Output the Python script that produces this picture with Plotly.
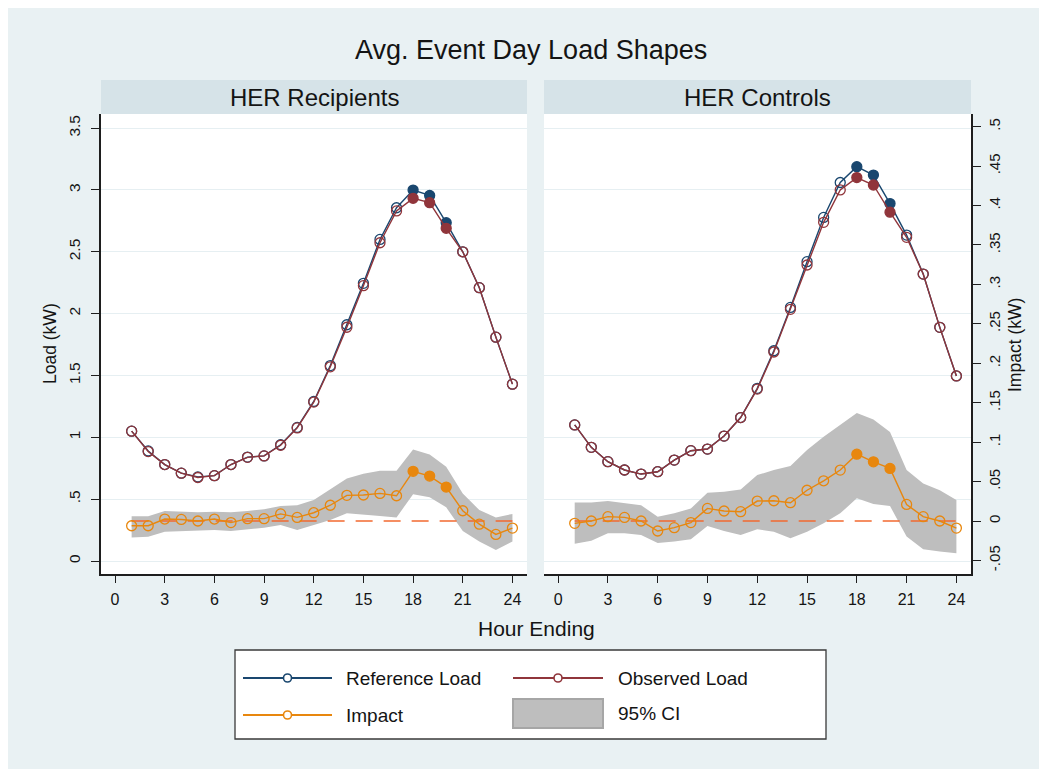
import plotly.graph_objects as go

# ---------------- data ----------------
hours = list(range(1, 25))
event_hours = [18, 19, 20]

ref_rec = [1.05, 0.89, 0.78, 0.71, 0.68, 0.69, 0.78, 0.84, 0.85, 0.94, 1.08, 1.29,
           1.58, 1.91, 2.245, 2.60, 2.856, 2.999, 2.956, 2.735, 2.50, 2.21, 1.81, 1.43]
obs_rec = [1.05, 0.885, 0.78, 0.71, 0.675, 0.69, 0.78, 0.838, 0.85, 0.936, 1.076, 1.285,
           1.57, 1.89, 2.226, 2.573, 2.83, 2.932, 2.897, 2.69, 2.50, 2.21, 1.81, 1.43]
imp_rec = [-0.006, -0.006, 0.0025, 0.002, 0.0, 0.0025, -0.002, 0.003, 0.003, 0.009, 0.0046, 0.0105,
           0.020, 0.0325, 0.033, 0.035, 0.032, 0.063, 0.057, 0.043, 0.013, -0.004, -0.017, -0.009]
ci_lo_rec = [-0.021, -0.020, -0.0135, -0.0127, -0.0127, -0.0114, -0.0127, -0.0105, -0.0084, -0.005, -0.0114, -0.005,
             0.0013, 0.0097, 0.0076, 0.0063, 0.0046, 0.0338, 0.030, 0.0173, -0.0127, -0.026, -0.0367, -0.026]
ci_hi_rec = [0.006, 0.006, 0.0127, 0.0114, 0.011, 0.0118, 0.011, 0.0127, 0.015, 0.019, 0.020, 0.0266,
             0.0405, 0.054, 0.060, 0.0637, 0.0637, 0.0907, 0.0844, 0.0688, 0.035, 0.0139, 0.0046, 0.009]

ref_ctl = [1.10, 0.919, 0.803, 0.736, 0.703, 0.722, 0.816, 0.892, 0.905, 1.01, 1.16, 1.396,
           1.70, 2.05, 2.42, 2.778, 3.06, 3.188, 3.12, 2.89, 2.635, 2.32, 1.889, 1.496]
obs_ctl = [1.10, 0.919, 0.803, 0.736, 0.703, 0.722, 0.816, 0.892, 0.905, 1.01, 1.16, 1.39,
           1.69, 2.035, 2.393, 2.738, 3.0, 3.10, 3.04, 2.82, 2.617, 2.32, 1.889, 1.496]
imp_ctl = [-0.003, 0.0, 0.0055, 0.0046, 0.0, -0.0127, -0.0084, -0.002, 0.016, 0.0127, 0.0118, 0.0253,
           0.0257, 0.0232, 0.039, 0.051, 0.0646, 0.0848, 0.075, 0.0667, 0.021, 0.0055, 0.0, -0.009]
ci_lo_ctl = [-0.029, -0.025, -0.0156, -0.0156, -0.0177, -0.028, -0.026, -0.023, -0.0063, -0.0127, -0.0177, -0.0105,
             -0.0135, -0.022, -0.0135, -0.003, 0.0097, 0.0287, 0.0215, 0.019, -0.0198, -0.0358, -0.0388, -0.041]
ci_hi_ctl = [0.0236, 0.0236, 0.0253, 0.0224, 0.020, 0.0055, 0.0097, 0.016, 0.0359, 0.037, 0.040, 0.0582,
             0.0646, 0.0696, 0.0899, 0.1067, 0.1215, 0.137, 0.1287, 0.113, 0.0646, 0.0477, 0.039, 0.0266]

zero_line = [0.0] * len(hours)

x_ticks = [0, 3, 6, 9, 12, 15, 18, 21, 24]
load_ticks = [0, 0.5, 1, 1.5, 2, 2.5, 3, 3.5]
load_labels = ["0", ".5", "1", "1.5", "2", "2.5", "3", "3.5"]
imp_ticks = [-0.05, 0, 0.05, 0.1, 0.15, 0.2, 0.25, 0.3, 0.35, 0.4, 0.45, 0.5]
imp_labels = ["-.05", "0", ".05", ".1", ".15", ".2", ".25", ".3", ".35", ".4", ".45", ".5"]

panel_titles = ["HER Recipients", "HER Controls"]
legend_names = ["Reference Load", "Observed Load", "Impact", "95% CI"]

# ---------------- style ----------------
W, H = 1039, 761
OFF = 8
BG = "#E9F1F3"
STRIP = "#D6E3E8"
NAVY = "#1A476F"
MAROON = "#90353B"
ORANGE = "#E8870E"
ZERO = "#F26A30"
CI = "#BEBEBE"
TXT = "#141414"
AX = "#1E1E1E"
FONT = "Liberation Sans, Arial, sans-serif"


def px2x(px):
    return (px - OFF) / W


def px2y(py):
    return 1 - (py - OFF) / H


symbols = ["circle" if h in event_hours else "circle-open" for h in hours]

fig = go.Figure()

panels = [
    ("x", "y", "y2", ref_rec, obs_rec, imp_rec, ci_lo_rec, ci_hi_rec),
    ("x2", "y3", "y4", ref_ctl, obs_ctl, imp_ctl, ci_lo_ctl, ci_hi_ctl),
]

for xa, ya_load, ya_imp, ref, obs, imp, lo, hi in panels:
    fig.add_trace(go.Scatter(x=hours, y=lo, xaxis=xa, yaxis=ya_imp, mode="lines",
                             line=dict(width=0, color=CI), showlegend=False, hoverinfo="skip"))
    fig.add_trace(go.Scatter(x=hours, y=hi, xaxis=xa, yaxis=ya_imp, mode="lines",
                             line=dict(width=0, color=CI), fill="tonexty", fillcolor=CI,
                             showlegend=False, name=legend_names[3]))
    fig.add_trace(go.Scatter(x=hours, y=zero_line, xaxis=xa, yaxis=ya_imp, mode="lines",
                             line=dict(width=1.6, color=ZERO, dash="17px,11px"), showlegend=False))
    fig.add_trace(go.Scatter(x=hours, y=imp, xaxis=xa, yaxis=ya_imp, mode="lines+markers",
                             line=dict(width=1.4, color=ORANGE),
                             marker=dict(symbol=symbols, size=10, color=ORANGE,
                                         line=dict(width=1.3, color=ORANGE)),
                             showlegend=False, name=legend_names[2]))
    fig.add_trace(go.Scatter(x=hours, y=ref, xaxis=xa, yaxis=ya_load, mode="lines+markers",
                             line=dict(width=1.4, color=NAVY),
                             marker=dict(symbol=symbols, size=10, color=NAVY,
                                         line=dict(width=1.3, color=NAVY)),
                             showlegend=False, name=legend_names[0]))
    fig.add_trace(go.Scatter(x=hours, y=obs, xaxis=xa, yaxis=ya_load, mode="lines+markers",
                             line=dict(width=1.4, color=MAROON),
                             marker=dict(symbol=symbols, size=10, color=MAROON,
                                         line=dict(width=1.3, color=MAROON)),
                             showlegend=False, name=legend_names[1]))

x_range = [-0.85, 24.88]
load_range = [-0.105, 3.614]
imp_range = [-0.0672, 0.5161]
dom_x1 = [px2x(101), px2x(527)]
dom_x2 = [px2x(544), px2x(971)]
dom_y = [px2y(574), px2y(114)]

xcommon = dict(range=x_range, tickvals=x_ticks, ticks="outside", ticklen=7, tickwidth=1.3,
               tickcolor=AX, showline=True, linecolor=AX, linewidth=1.5, showgrid=False,
               zeroline=False, tickfont=dict(size=16, color=TXT, family=FONT),
               ticklabelstandoff=3)

fig.update_layout(
    width=W, height=H,
    margin=dict(l=0, r=0, t=0, b=0),
    paper_bgcolor=BG, plot_bgcolor="white",
    showlegend=False,
    font=dict(family=FONT, color=TXT),
    xaxis=dict(domain=dom_x1, anchor="y", **xcommon),
    xaxis2=dict(domain=dom_x2, anchor="y3", **xcommon),
    yaxis=dict(domain=dom_y, anchor="x", range=load_range, tickvals=load_ticks, ticktext=load_labels,
               tickangle=-90, ticks="outside", ticklen=8, tickwidth=1.3, tickcolor=AX,
               showline=True, linecolor=AX, linewidth=1.5, showgrid=True, gridcolor="#E6EFF2",
               gridwidth=1.2, zeroline=False, tickfont=dict(size=15.5, color=TXT, family=FONT),
               ticklabelstandoff=5),
    yaxis2=dict(overlaying="y", anchor="x", side="right", range=imp_range, visible=False),
    yaxis3=dict(domain=dom_y, anchor="x2", range=load_range, tickvals=load_ticks,
                showticklabels=False, ticks="", showline=False, showgrid=True,
                gridcolor="#E6EFF2", gridwidth=1.2, zeroline=False),
    yaxis4=dict(overlaying="y3", anchor="x2", side="right", range=imp_range, tickvals=imp_ticks,
                ticktext=imp_labels, tickangle=-90, ticks="outside", ticklen=8, tickwidth=1.3,
                tickcolor=AX, showline=True, linecolor=AX, linewidth=1.5, showgrid=False,
                zeroline=False, tickfont=dict(size=15, color=TXT, family=FONT),
                ticklabelstandoff=1),
)

shapes = []
annotations = []

# panel header strips
for (x0, x1), title in zip([(101, 527), (544, 971)], panel_titles):
    shapes.append(dict(type="rect", xref="paper", yref="paper", x0=px2x(x0), x1=px2x(x1),
                       y0=px2y(114), y1=px2y(80), fillcolor=STRIP, line=dict(width=0), layer="below"))
    annotations.append(dict(text=title, xref="paper", yref="paper", x=px2x((x0 + x1) / 2),
                            y=px2y(97), showarrow=False, xanchor="center", yanchor="middle",
                            font=dict(size=24, color=TXT, family=FONT)))

# titles
annotations.append(dict(text="Avg. Event Day Load Shapes", xref="paper", yref="paper",
                        x=px2x(531), y=px2y(50), showarrow=False, xanchor="center", yanchor="middle",
                        font=dict(size=27, color=TXT, family=FONT)))
annotations.append(dict(text="Hour Ending", xref="paper", yref="paper",
                        x=px2x(536), y=px2y(628), showarrow=False, xanchor="center", yanchor="middle",
                        font=dict(size=21, color=TXT, family=FONT)))
annotations.append(dict(text="Load (kW)", xref="paper", yref="paper", textangle=-90,
                        x=px2x(50), y=px2y(344), showarrow=False, xanchor="center", yanchor="middle",
                        font=dict(size=17.5, color=TXT, family=FONT)))
annotations.append(dict(text="Impact (kW)", xref="paper", yref="paper", textangle=-90,
                        x=px2x(1015), y=px2y(345), showarrow=False, xanchor="center", yanchor="middle",
                        font=dict(size=17.5, color=TXT, family=FONT)))

# legend box (drawn manually to match layout)
shapes.append(dict(type="rect", xref="paper", yref="paper", x0=px2x(235), x1=px2x(826),
                   y0=px2y(739), y1=px2y(650), fillcolor="white", line=dict(color="#3A3A3A", width=1.3)))

leg_items = [
    (legend_names[0], NAVY, 243, 332, 344, 678, "line"),
    (legend_names[1], MAROON, 513, 603, 616, 678, "line"),
    (legend_names[2], ORANGE, 243, 332, 344, 715, "line"),
    (legend_names[3], CI, 513, 603, 616, 713, "area"),
]
for name, col, lx0, lx1, tx, ly, kind in leg_items:
    if kind == "line":
        shapes.append(dict(type="line", xref="paper", yref="paper", x0=px2x(lx0), x1=px2x(lx1),
                           y0=px2y(ly), y1=px2y(ly), line=dict(color=col, width=2.2)))
        cx = (lx0 + lx1) / 2
        r = 4
        shapes.append(dict(type="circle", xref="paper", yref="paper", x0=px2x(cx - r), x1=px2x(cx + r),
                           y0=px2y(ly + r), y1=px2y(ly - r), fillcolor="white",
                           line=dict(color=col, width=1.6)))
    else:
        shapes.append(dict(type="rect", xref="paper", yref="paper", x0=px2x(lx0), x1=px2x(lx1),
                           y0=px2y(728), y1=px2y(699), fillcolor=CI,
                           line=dict(color="#A6A6A6", width=2)))
    annotations.append(dict(text=name, xref="paper", yref="paper", x=px2x(tx), y=px2y(ly),
                            showarrow=False, xanchor="left", yanchor="middle",
                            font=dict(size=19, color=TXT, family=FONT)))

fig.update_layout(shapes=shapes, annotations=annotations)

fig.write_html("out.html")
